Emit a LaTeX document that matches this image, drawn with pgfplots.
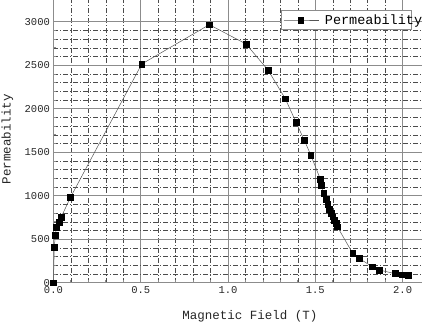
\documentclass[border=0pt]{standalone}
\usepackage{fontspec}
\setmainfont{Liberation Mono}
\usepackage{pgfplots}
\pgfplotsset{compat=1.18}
\definecolor{cLine}{HTML}{555555}
\definecolor{cAxis}{HTML}{8C8C8C}

\begin{document}
\begin{tikzpicture}
\begin{axis}[
    x=174.6pt, y=0.087pt,
    xmin=0, xmax=2.25, ymin=0, ymax=3300,
    xtick={0,0.5,1.0,1.5,2.0}, ytick={0,500,...,3000},
    minor x tick num=4, minor y tick num=4,
    xticklabel style={/pgf/number format/.cd, fixed, fixed zerofill, precision=1},
    yticklabel style={/pgf/number format/1000 sep={}},
    /pgf/number format/assume math mode=true,
    tick label style={font=\fontsize{10.5}{12}\selectfont, text=black!85},
    label style={font=\fontsize{12.5}{14}\selectfont, text=black!85},
    xlabel={Magnetic Field (T)}, ylabel={Permeability},
    xlabel style={at={(axis description cs:0.5,-0.118)}, anchor=center},
    ylabel style={at={(axis description cs:-0.117,0.5)}, anchor=center},
    xtick align=inside, ytick align=inside,
    major tick length=4pt, minor tick length=3pt,
    tick style={cAxis, line width=0.8pt},
    axis line style={cAxis, line width=1.4pt},
    grid=both,
    major grid style={cAxis, line width=0.9pt},
    minor grid style={black!70, line width=0.45pt, dash pattern=on 5pt off 2pt on 1pt off 2pt},
    clip=false,
    legend style={at={(axis cs:1.3036,3136)}, anchor=north west,
                  draw=cAxis, line width=0.8pt, fill=white,
                  font=\fontsize{13.5}{15}\selectfont, inner sep=2pt},
    legend image code/.code={%
      \draw[mark repeat=2, mark phase=2, #1] plot coordinates {(0pt,0pt) (17pt,0pt) (35pt,0pt)};},
]
\addplot[cLine, line width=0.5pt, mark=square*, mark size=2.9pt,
         mark options={black, solid}] coordinates {
  (0,0) (0.005,407) (0.011,550) (0.017,637) (0.032,700) (0.045,757) (0.097,979)
  (0.506,2515) (0.893,2967) (1.103,2745) (1.229,2446) (1.328,2116) (1.389,1848)
  (1.437,1638) (1.474,1469) (1.529,1190) (1.534,1121) (1.548,1029) (1.561,960)
  (1.571,902) (1.580,845) (1.590,799) (1.600,760) (1.609,718) (1.619,684)
  (1.626,645) (1.714,339) (1.750,282) (1.826,185) (1.867,147) (1.956,105)
  (1.998,93) (2.033,86)};
\addlegendentry{\hspace{4pt}\makebox[82pt][l]{Permeability}}
\coordinate (bbSW) at (axis cs:-0.306,-485);
\coordinate (bbNE) at (axis cs:2.1111,3250.6);
\end{axis}
\pgfresetboundingbox
\useasboundingbox (bbSW) rectangle (bbNE);
\end{tikzpicture}
\end{document}
